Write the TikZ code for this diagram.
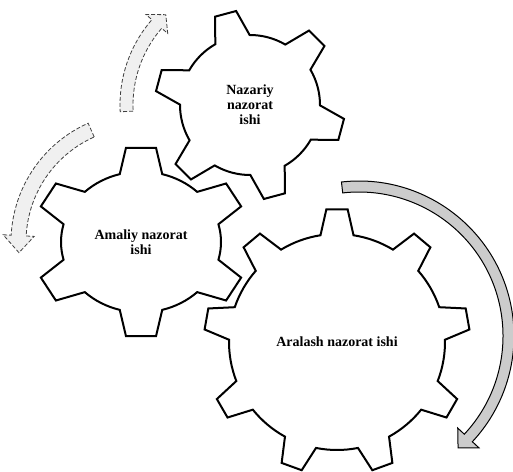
\documentclass[tikz,border=0pt]{standalone}
\usepackage{fontspec}
\setmainfont{Liberation Serif}
\usepackage{tikz}
\tikzstyle{gear} = [draw=black, line width=2pt, fill=white]
\tikzstyle{fadedarrow} = [draw=black!75, line width=0.8pt, dash pattern=on 4pt off 2pt, fill=black!6]
\tikzstyle{shadedarrow} = [draw=black, line width=1pt, fill=black!20]
\tikzstyle{gearlabel} = [align=center, inner sep=0pt, font=\bfseries\fontsize{14}{15}\selectfont]

% #1 centre, #2 teeth, #3 first tooth, #4 root r, #5 tip r, #6 root half angle, #7 tip half angle, #8 yscale
\newcommand{\drawgear}[8]{%
  \begin{scope}[shift={(#1)}, yscale=#8]
    \draw[gear] ({#3-#6}:#4)
      \foreach \k in {1,...,#2} {
        -- ({#3+(\k-1)*360/#2-#7}:#5) -- ({#3+(\k-1)*360/#2+#7}:#5)
        -- ({#3+(\k-1)*360/#2+#6}:#4)
        arc[start angle={#3+(\k-1)*360/#2+#6}, end angle={#3+\k*360/#2-#6}, radius=#4]
      } -- cycle;
  \end{scope}}

% #1 centre, #2 from, #3 to, #4 inner r, #5 outer r, #6 head angle, #7 barb, #8 style
\newcommand{\turnarrow}[8]{%
  \begin{scope}[shift={(#1)}]
    \draw[#8] ({#2}:#4) -- ({#2}:#5) arc[start angle=#2, end angle=#3, radius=#5]
      -- ({#3}:{#5+#7}) -- ({#6}:{(#4+#5)/2}) -- ({#3}:{#4-#7}) -- ({#3}:#4)
      arc[start angle=#3, end angle=#2, radius=#4] -- cycle;
  \end{scope}}

\begin{document}
\begin{tikzpicture}[x=1pt, y=1pt]
        \useasboundingbox (0,0) rectangle (513,471);

        \coordinate (g1) at (250,366);
        \coordinate (g2) at (141,229);
        \coordinate (g3) at (337,129);
        \coordinate (a3) at (359,135);

        % Arrows
        \turnarrow{g1}{183}{139}{117}{130}{133}{8}{fadedarrow}
        \turnarrow{g2}{114}{177}{115}{130}{185}{8}{fadedarrow}
        \turnarrow{a3}{96.5}{-43}{144}{155}{-48.5}{9}{shadedarrow}

        % Gears
        \drawgear{g1}{6}{45}{70}{95}{14.7}{6.6}{1}
        \drawgear{g2}{6}{30}{80}{108}{15.4}{8}{0.88}
        \drawgear{g3}{9}{10}{108}{133}{8.8}{4.6}{1}

        % Text Labels
        \node[gearlabel] (nazariy) at (g1) {Nazariy\\nazorat\\ishi};
        \node[gearlabel] (amaliy) at (g2) {Amaliy nazorat\\ishi};
        \node[gearlabel] (aralash) at (g3) {Aralash nazorat ishi};

    \end{tikzpicture}
\end{document}
